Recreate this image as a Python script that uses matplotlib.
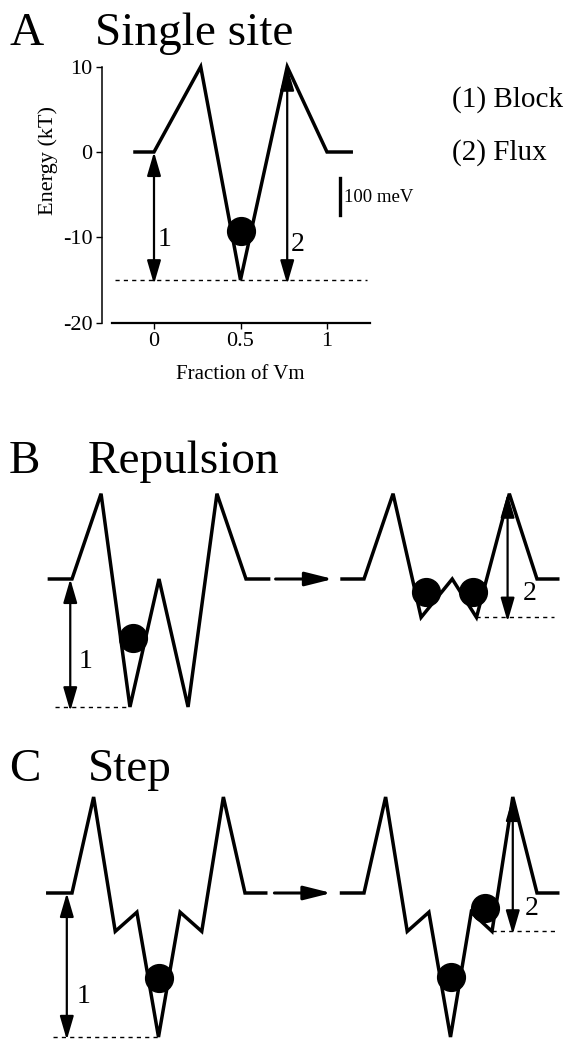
import matplotlib
matplotlib.use('Agg')
import matplotlib.pyplot as plt

plt.rcParams['font.family'] = ['Liberation Serif', 'DejaVu Serif']
plt.rcParams['axes.unicode_minus'] = False

W, H = 573, 1044

# ---- panel A: single site (fraction of Vm, energy in kT)
a_x = [-0.11, 0, 0.27, 0.5, 0.77, 1.0, 1.14]
a_e = [0, 0, 10, -15, 10, 0, 0]
a_ball_x = [0.5]
a_ball_e = [-9.3]
a_xticks = [0, 0.5, 1]
a_xticklabels = ['0', '0.5', '1']
a_yticks = [-20, -10, 0, 10]

# ---- panel B: repulsion
b_left_x = [-0.13, 0, 0.167, 0.333, 0.5, 0.667, 0.833, 1.0, 1.13]
b_left_e = [0, 0, 10, -15, 0, -15, 10, 0, 0]
b_left_ball_x = [0.35]
b_left_ball_e = [-6.9]
b_right_x = [-0.127, 0, 0.168, 0.33, 0.51, 0.65, 0.84, 1.0, 1.12]
b_right_e = [0, 0, 10, -4.5, 0, -4.5, 10, 0, 0]
b_right_ball_x = [0.36, 0.63]
b_right_ball_e = [-1.5, -1.5]

# ---- panel C: step
c_left_x = [-0.14, 0, 0.125, 0.25, 0.375, 0.5, 0.625, 0.75, 0.875, 1.0, 1.12]
c_left_e = [0, 0, 10, -4, -2, -15, -2, -4, 10, 0, 0]
c_left_ball_x = [0.5]
c_left_ball_e = [-8.9]
c_right_x = [-0.13, 0, 0.125, 0.25, 0.375, 0.5, 0.62, 0.74, 0.86, 1.0, 1.12]
c_right_e = [0, 0, 10, -4, -2, -15, -2, -4, 10, 0, 0]
c_right_ball_x = [0.5, 0.70]
c_right_ball_e = [-8.7, -1.6]


def add_panel_axes(fig, x0, y0, sx, sy, xlim, ylim):
    # x0,y0 = pixel position of data (0,0); sx,sy = pixels per unit
    left = x0 + xlim[0] * sx
    right = x0 + xlim[1] * sx
    top = y0 - ylim[1] * sy
    bottom = y0 - ylim[0] * sy
    ax = fig.add_axes([left / W, 1 - bottom / H, (right - left) / W, (bottom - top) / H])
    ax.set_xlim(*xlim)
    ax.set_ylim(*ylim)
    return ax


def draw_profile(ax, x, e, bx, be):
    ax.plot(x, e, color='k', lw=2.5, solid_joinstyle='miter', clip_on=False)
    ax.plot(bx, be, 'o', color='k', ms=20, clip_on=False, zorder=5)


def double_arrow(ax, x, y_top, y_bot):
    ax.annotate('', xy=(x, y_bot), xytext=(x, y_top),
                arrowprops=dict(arrowstyle='<|-|>,head_length=1.2,head_width=0.35',
                                mutation_scale=12, color='k', lw=1.6,
                                shrinkA=0, shrinkB=0),
                annotation_clip=False, zorder=6)


def right_arrow(ax, x0, x1, y):
    ax.annotate('', xy=(x1, y), xytext=(x0, y),
                arrowprops=dict(arrowstyle='-|>,head_length=1.4,head_width=0.35',
                                mutation_scale=12, color='k', lw=2.2,
                                shrinkA=0, shrinkB=0),
                annotation_clip=False)


def dashed(ax, x0, x1, y):
    ax.plot([x0, x1], [y, y], color='k', lw=1.0, dashes=(3, 3), clip_on=False)


def ftext(fig, x, y, s, **kw):
    fig.text(x / W, 1 - y / H, s, **kw)


fig = plt.figure(figsize=(W / 100, H / 100), dpi=100)

# titles
title_kw = dict(fontsize=34, va='baseline', ha='left')
ftext(fig, 9, 45, 'A', **title_kw)
ftext(fig, 95, 45, 'Single site', **title_kw)
ftext(fig, 9, 473, 'B', **title_kw)
ftext(fig, 88, 473, 'Repulsion', **title_kw)
ftext(fig, 9, 781, 'C', **title_kw)
ftext(fig, 88, 781, 'Step', **title_kw)

# ---- A
ax = add_panel_axes(fig, 154, 152, 173, 8.53, (-0.30, 1.25), (-20, 10.6))
draw_profile(ax, a_x, a_e, a_ball_x, a_ball_e)
dashed(ax, -0.225, 1.23, -15)
double_arrow(ax, 0, 0, -15.5)
double_arrow(ax, 0.77, 10, -15.5)
ax.text(0.06, -10.3, '1', fontsize=20, ha='center', va='center')
ax.text(0.83, -10.9, '2', fontsize=20, ha='center', va='center')
ax.plot([1.075, 1.075], [-3.0, -7.4], color='k', lw=2.4, clip_on=False)
ax.text(1.10, -5.3, '100 meV', fontsize=13.5, ha='left', va='center')
for s in ['top', 'right']:
    ax.spines[s].set_visible(False)
ax.spines['left'].set_bounds(-20, 10)
ax.spines['bottom'].set_bounds(-0.24, 1.25)
ax.spines['left'].set_linewidth(1.1)
ax.spines['bottom'].set_linewidth(1.6)
ax.set_xticks(a_xticks)
ax.set_xticklabels(a_xticklabels)
ax.set_yticks(a_yticks)
ax.tick_params(direction='out', length=4, width=1.0, labelsize=16, pad=3)
ax.set_xlabel('Fraction of Vm', fontsize=15, va='center')
ax.set_ylabel('Energy (kT)', fontsize=16, va='center')
ax.xaxis.set_label_coords(0.515, -0.20)
ax.yaxis.set_label_coords(-0.202, 0.62)
ftext(fig, 452, 100, '(1) Block', fontsize=21, va='center')
ftext(fig, 452, 153, '(2) Flux', fontsize=21, va='center')

# ---- B
axl = add_panel_axes(fig, 72, 579, 174, 8.53, (-0.15, 1.55), (-17, 11.5))
axl.axis('off')
draw_profile(axl, b_left_x, b_left_e, b_left_ball_x, b_left_ball_e)
dashed(axl, -0.10, 0.333, -15)
double_arrow(axl, -0.01, 0, -15.5)
axl.text(0.075, -9.7, '1', fontsize=20, ha='center', va='center')
right_arrow(axl, 1.17, 1.50, 0)

axr = add_panel_axes(fig, 364, 579, 173, 8.53, (-0.15, 1.22), (-17, 11.5))
axr.axis('off')
draw_profile(axr, b_right_x, b_right_e, b_right_ball_x, b_right_ball_e)
dashed(axr, 0.65, 1.10, -4.5)
double_arrow(axr, 0.83, 10, -5.0)
axr.text(0.955, -1.7, '2', fontsize=20, ha='center', va='center')

# ---- C
axl = add_panel_axes(fig, 72, 893, 173, 9.6, (-0.15, 1.55), (-16, 11))
axl.axis('off')
draw_profile(axl, c_left_x, c_left_e, c_left_ball_x, c_left_ball_e)
dashed(axl, -0.11, 0.5, -15)
double_arrow(axl, -0.03, 0, -15.3)
axl.text(0.064, -10.8, '1', fontsize=20, ha='center', va='center')
right_arrow(axl, 1.17, 1.50, 0)

axr = add_panel_axes(fig, 364, 893, 173, 9.6, (-0.15, 1.22), (-16, 11))
axr.axis('off')
draw_profile(axr, c_right_x, c_right_e, c_right_ball_x, c_right_ball_e)
dashed(axr, 0.74, 1.12, -4)
double_arrow(axr, 0.86, 10, -4.3)
axr.text(0.97, -1.6, '2', fontsize=20, ha='center', va='center')

fig.savefig('out.png', dpi=100)
